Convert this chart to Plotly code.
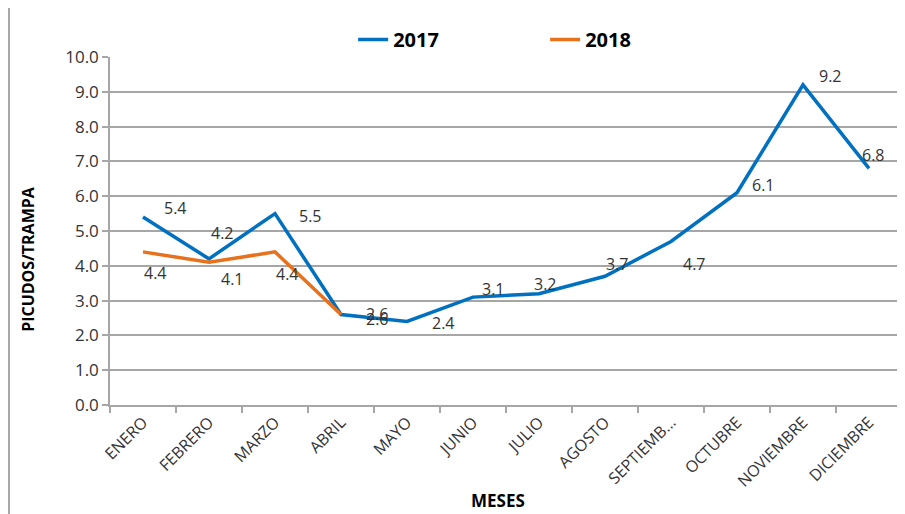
import plotly.graph_objects as go

meses = ["ENERO", "FEBRERO", "MARZO", "ABRIL", "MAYO", "JUNIO", "JULIO",
         "AGOSTO", "SEPTIEMB...", "OCTUBRE", "NOVIEMBRE", "DICIEMBRE"]
v2017 = [5.4, 4.2, 5.5, 2.6, 2.4, 3.1, 3.2, 3.7, 4.7, 6.1, 9.2, 6.8]
v2018 = [4.4, 4.1, 4.4, 2.6]

# label offsets in pixels (dx right, dy down) - styling only
off2017 = [(32, -9), (13, -26), (35, 2), (36, -1), (36, 2), (20, -8), (6, -10),
           (12, -12), (23, 23), (26, -8), (27, -9), (4, -13)]
off2018 = [(12, 21), (23, 17), (12, 22), (36, 4)]

C17 = "#0070C0"
C18 = "#E8711C"
FONT = "Open Sans"

fig = go.Figure()
fig.add_trace(go.Scatter(x=meses, y=v2017, mode="lines", name="<b>2017</b>",
                         line=dict(color=C17, width=3.5)))
fig.add_trace(go.Scatter(x=meses[:len(v2018)], y=v2018, mode="lines", name="<b>2018</b>",
                         line=dict(color=C18, width=3.5)))

ann = []
for m, v, (dx, dy) in zip(meses, v2017, off2017):
    ann.append(dict(x=m, y=v, xref="x", yref="y", text=f"{v:.1f}", showarrow=False,
                    xshift=dx, yshift=-dy, font=dict(family=FONT, size=16, color="#333333")))
for m, v, (dx, dy) in zip(meses, v2018, off2018):
    ann.append(dict(x=m, y=v, xref="x", yref="y", text=f"{v:.1f}", showarrow=False,
                    xshift=dx, yshift=-dy, font=dict(family=FONT, size=16, color="#333333")))
ann.append(dict(x=-0.1035, y=0.42, xref="paper", yref="paper", text="<b>PICUDOS/TRAMPA</b>",
                xanchor="center", yanchor="middle",
                textangle=-90, showarrow=False, font=dict(family=FONT, size=16, color="black")))
ann.append(dict(x=0.49, y=-0.273, xref="paper", yref="paper", text="<b>MESES</b>",
                xanchor="center", yanchor="middle",
                showarrow=False, font=dict(family=FONT, size=17, color="black")))

# page body has an 8px margin; size the figure so the plot area lands where the reference has it
fig.update_layout(
    width=897, height=506,
    margin=dict(l=102, r=3, t=49, b=109, autoexpand=False),
    paper_bgcolor="white", plot_bgcolor="white",
    font=dict(family=FONT, size=15, color="#333333"),
    annotations=ann,
    showlegend=True,
    legend=dict(orientation="h", x=0.307, y=1.05, xanchor="left", yanchor="middle",
                entrywidth=147, font=dict(family=FONT, size=20, color="black"),
                bgcolor="rgba(0,0,0,0)"),
    shapes=[dict(type="rect", xref="paper", yref="paper", x0=-0.1275, x1=1.02,
                 y0=-0.4, y1=1.1437, line=dict(color="#8c8c8c", width=1.5),
                 fillcolor="rgba(0,0,0,0)", layer="below")],
)

fig.update_xaxes(type="category", automargin=False, showgrid=False, showline=True,
                 linecolor="#a6a6a6", linewidth=1.5, ticks="outside", tickson="boundaries",
                 ticklen=6, tickcolor="#a6a6a6", tickwidth=1.5, tickangle=-45,
                 tickfont=dict(family=FONT, size=16, color="#333333"),
                 range=[-0.5, 11.5])
fig.update_yaxes(range=[0, 10], dtick=1, tickformat=".1f", automargin=False, showgrid=True,
                 gridcolor="#a6a6a6", gridwidth=1.5, showline=True, linecolor="#a6a6a6",
                 linewidth=1.5, ticks="outside", ticklen=6, tickcolor="#a6a6a6",
                 tickwidth=1.5, zeroline=False,
                 tickfont=dict(family=FONT, size=17, color="#333333"))

fig.write_html("out.html")
